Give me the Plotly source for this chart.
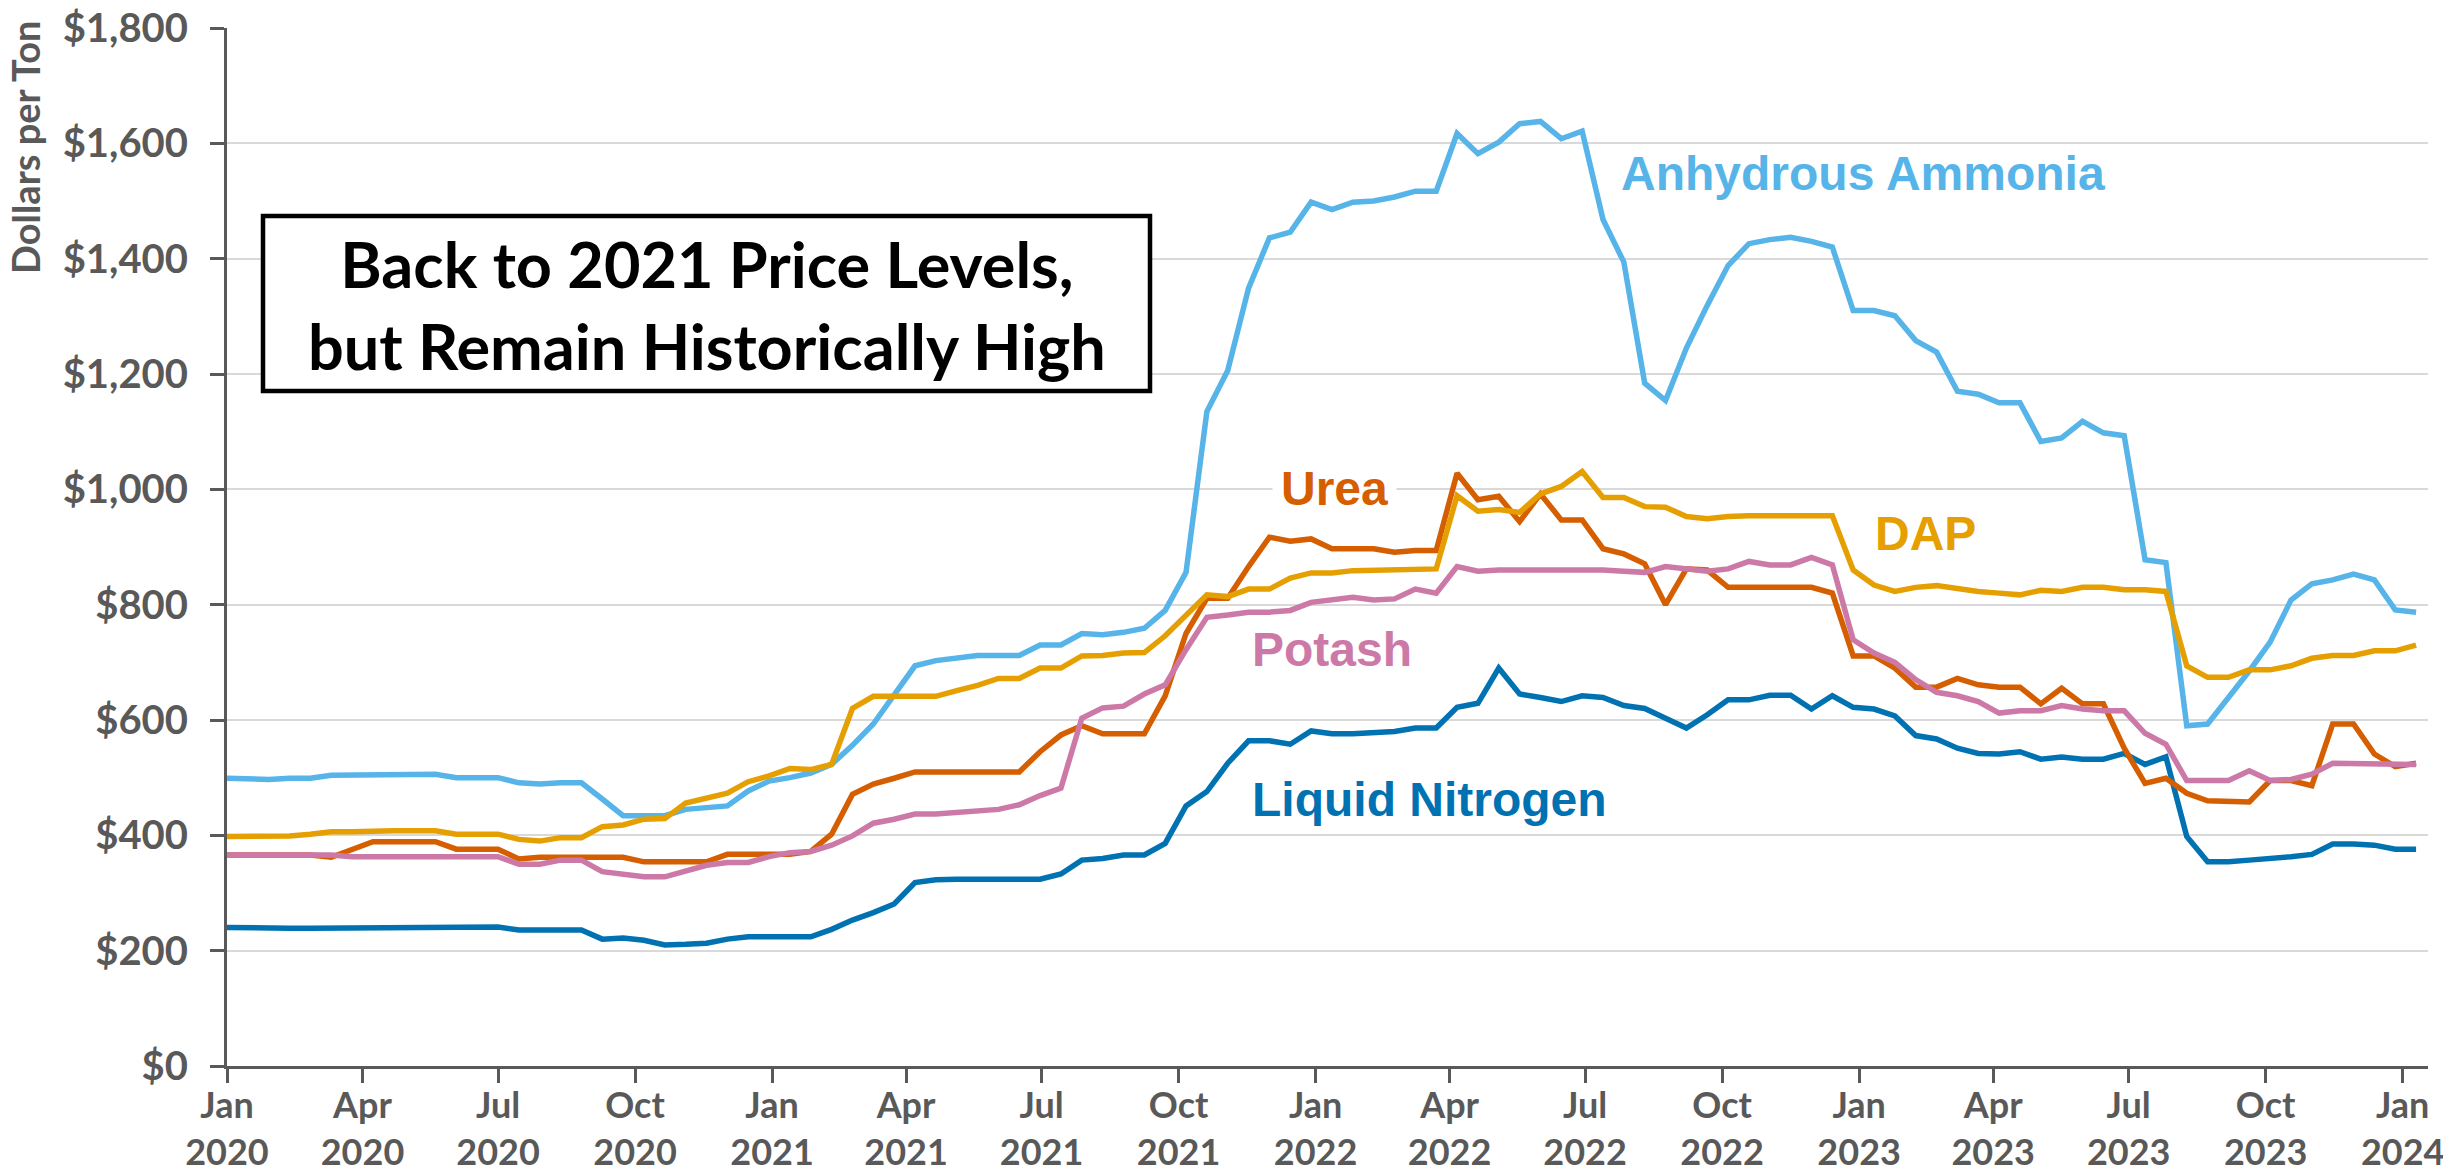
import pandas as pd
import plotly.graph_objects as go

# biweekly observation dates (Jan 2020 - Jan 2024)
dates = pd.date_range("2020-01-01", periods=106, freq="14D")

anhydrous_ammonia = [
    499, 497, 497, 499, 499, 504, 504, 506, 506, 506, 506, 500, 500, 500,
    491, 489, 491, 491, 463, 434, 434, 434, 445, 449, 451, 477, 494, 500, 508, 523,
    556, 593, 645, 694, 703, 707, 712, 712, 712, 730, 730, 750, 748, 752, 759, 790, 856,
    1135, 1206, 1349, 1436, 1446, 1498, 1485, 1498, 1500, 1507, 1517, 1517,
    1617, 1582, 1602, 1634, 1638, 1608, 1621,
    1468, 1394, 1184, 1154, 1245, 1319, 1388, 1426, 1433, 1437, 1430, 1420,
    1310, 1310, 1301, 1258, 1238, 1170, 1165, 1150, 1150, 1083, 1089, 1118,
    1098, 1093, 878, 873, 590, 593, 638, 685, 735, 808, 836, 843, 853, 843, 791, 787,
]

dap = [
    398, 398, 399, 399, 402, 406, 406, 408, 408, 408, 408, 402, 402, 402,
    393, 390, 396, 396, 415, 418, 428, 429, 456, 464, 473, 493, 503, 516, 514, 523,
    620, 641, 641, 639, 641, 651, 660, 672, 672, 690, 690, 711, 712, 716, 717, 746, 782,
    817, 814, 827, 827, 846, 855, 855, 859, 860, 860, 862, 862,
    989, 962, 965, 960, 992, 1005, 1031,
    986, 986, 970, 969, 953, 949, 953, 954, 954, 954, 954, 954,
    860, 834, 823, 830, 833, 827, 823, 820, 817, 825, 823, 830,
    830, 826, 826, 823, 694, 674, 674, 687, 687, 694, 707, 712, 712, 720, 720, 730,
]

urea = [
    366, 366, 366, 366, 366, 362, 375, 389, 389, 389, 389, 376, 376, 376,
    359, 362, 362, 362, 362, 362, 354, 354, 354, 354, 367, 367, 367, 367, 372, 402,
    471, 489, 499, 510, 510, 510, 510, 510, 510, 545, 574, 590, 576, 576, 576, 642, 750,
    811, 811, 866, 917, 910, 914, 897, 897, 897, 891, 894, 894,
    1028, 982, 988, 944, 992, 947, 947,
    897, 888, 871, 800, 862, 860, 830, 830, 830, 830, 830, 820,
    711, 711, 690, 657, 657, 672, 661, 657, 657, 628, 655, 628,
    628, 551, 490, 499, 473, 460, 460, 458, 495, 495, 486, 593, 593, 541, 519, 525,
]

potash = [
    366, 366, 366, 366, 366, 366, 363, 363, 363, 363, 363, 363, 363, 363,
    350, 350, 357, 357, 337, 333, 328, 328, 337, 348, 353, 353, 363, 370, 372, 383,
    399, 421, 428, 437, 437, 440, 442, 445, 453, 469, 482, 603, 621, 624, 645, 661, 722,
    778, 782, 787, 787, 790, 804, 808, 813, 808, 810, 827, 820,
    866, 858, 860, 860, 862, 862, 862,
    860, 858, 856, 866, 862, 858, 862, 875, 869, 869, 882, 869,
    739, 716, 700, 670, 648, 642, 632, 612, 616, 616, 625, 619,
    616, 616, 577, 558, 495, 495, 495, 512, 495, 497, 506, 525, 525, 525, 523, 523,
]

liquid_nitrogen = [
    240, 239, 239, 239, 239, 239, 241, 241, 241, 241, 241, 241, 241, 241,
    236, 236, 236, 236, 220, 222, 218, 210, 211, 213, 220, 224, 224, 224, 224, 237,
    253, 266, 281, 318, 323, 324, 324, 324, 324, 324, 333, 357, 360, 366, 366, 386, 451,
    476, 525, 564, 564, 558, 581, 576, 576, 577, 580, 586, 586,
    622, 629, 690, 645, 639, 632, 642,
    639, 625, 620, 603, 586, 609, 635, 635, 643, 643, 619, 642,
    622, 619, 607, 573, 567, 551, 542, 541, 545, 532, 536, 532,
    532, 542, 523, 536, 398, 354, 354, 357, 359, 363, 367, 385, 385, 383, 376, 376,
]

tick_dates = ["2020-01-01", "2020-04-01", "2020-07-01", "2020-10-01",
              "2021-01-01", "2021-04-01", "2021-07-01", "2021-10-01",
              "2022-01-01", "2022-04-01", "2022-07-01", "2022-10-01",
              "2023-01-01", "2023-04-01", "2023-07-01", "2023-10-01",
              "2024-01-01"]
tick_text = ["Jan<br>2020", "Apr<br>2020", "Jul<br>2020", "Oct<br>2020",
             "Jan<br>2021", "Apr<br>2021", "Jul<br>2021", "Oct<br>2021",
             "Jan<br>2022", "Apr<br>2022", "Jul<br>2022", "Oct<br>2022",
             "Jan<br>2023", "Apr<br>2023", "Jul<br>2023", "Oct<br>2023",
             "Jan<br>2024"]

series = [
    ("Liquid Nitrogen", liquid_nitrogen, "#0072B2"),
    ("Anhydrous Ammonia", anhydrous_ammonia, "#56B4E9"),
    ("Urea", urea, "#D55E00"),
    ("DAP", dap, "#E69F00"),
    ("Potash", potash, "#CC79A7"),
]

fig = go.Figure()
for name, vals, col in series:
    fig.add_trace(go.Scatter(x=dates, y=vals, mode="lines", name=name,
                             line=dict(color=col, width=5.5), showlegend=False))

W, H = 2451, 1175
OFF = 8  # page body margin offset
L, T = 227, 28          # plot area corner in the picture
pw, ph = 2201, 1038     # plot area size


def px(x):
    return (x - L) / pw


def py(y):
    return (T + ph - y) / ph


labels = [
    ("Anhydrous Ammonia", "#56B4E9", 1863, 173),
    ("Urea", "#D55E00", 1334, 488),
    ("DAP", "#E69F00", 1925, 533),
    ("Potash", "#CC79A7", 1332, 649),
    ("Liquid Nitrogen", "#0072B2", 1429, 799),
]
for txt, col, x, y in labels:
    fig.add_annotation(x=px(x), y=py(y), xref="paper", yref="paper",
                       text="<b>" + txt + "</b>", showarrow=False,
                       xanchor="center", yanchor="middle",
                       font=dict(family="Liberation Sans", size=48, color=col),
                       bgcolor="white" if txt == "Urea" else None, borderpad=8)

# title box
fig.add_shape(type="rect", xref="paper", yref="paper",
              x0=px(263), x1=px(1150), y0=py(391), y1=py(216),
              line=dict(color="black", width=4.5), fillcolor="white", layer="above")
fig.add_annotation(x=px((263 + 1150) / 2), y=py(304), xref="paper", yref="paper",
                   text="<b>Back to 2021 Price Levels,<br>but Remain Historically High</b>",
                   showarrow=False, xanchor="center", yanchor="middle",
                   font=dict(family="Lato", size=63, color="black"))

# y axis title
fig.add_annotation(x=px(25), y=py(147), xref="paper", yref="paper",
                   text="<b>Dollars per Ton</b>", textangle=-90, showarrow=False,
                   xanchor="center", yanchor="middle",
                   font=dict(family="Lato", size=38, color="#595959"))

fig.update_layout(
    width=W, height=H,
    margin=dict(l=L - OFF, r=W - (L - OFF) - pw, t=T - OFF, b=H - (T - OFF) - ph, pad=0,
                autoexpand=False),
    plot_bgcolor="white", paper_bgcolor="white",
    font=dict(family="Lato", color="#595959"),
    xaxis=dict(type="date", range=["2020-01-01", "2024-01-18"],
               tickvals=tick_dates, ticktext=tick_text, automargin=False,
               ticklabeloverflow="allow", ticklabelstandoff=-8,
               showgrid=False, zeroline=False,
               showline=True, linecolor="#595959", linewidth=3,
               ticks="outside", ticklen=14, tickwidth=2.5, tickcolor="#595959",
               tickfont=dict(family="Lato", size=36, color="#595959", weight="bold")),
    yaxis=dict(range=[0, 1800], dtick=200, tickprefix="$", tickformat=",.0f",
               automargin=False, ticklabeloverflow="allow",
               showgrid=True, gridcolor="#D9D9D9", gridwidth=2,
               zeroline=False, showline=True, linecolor="#595959", linewidth=3,
               ticks="outside", ticklen=14, tickwidth=2.5, tickcolor="#595959",
               ticklabelstandoff=14,
               tickfont=dict(family="Lato", size=40, color="#595959", weight="bold")),
)

fig.write_html("out.html")
